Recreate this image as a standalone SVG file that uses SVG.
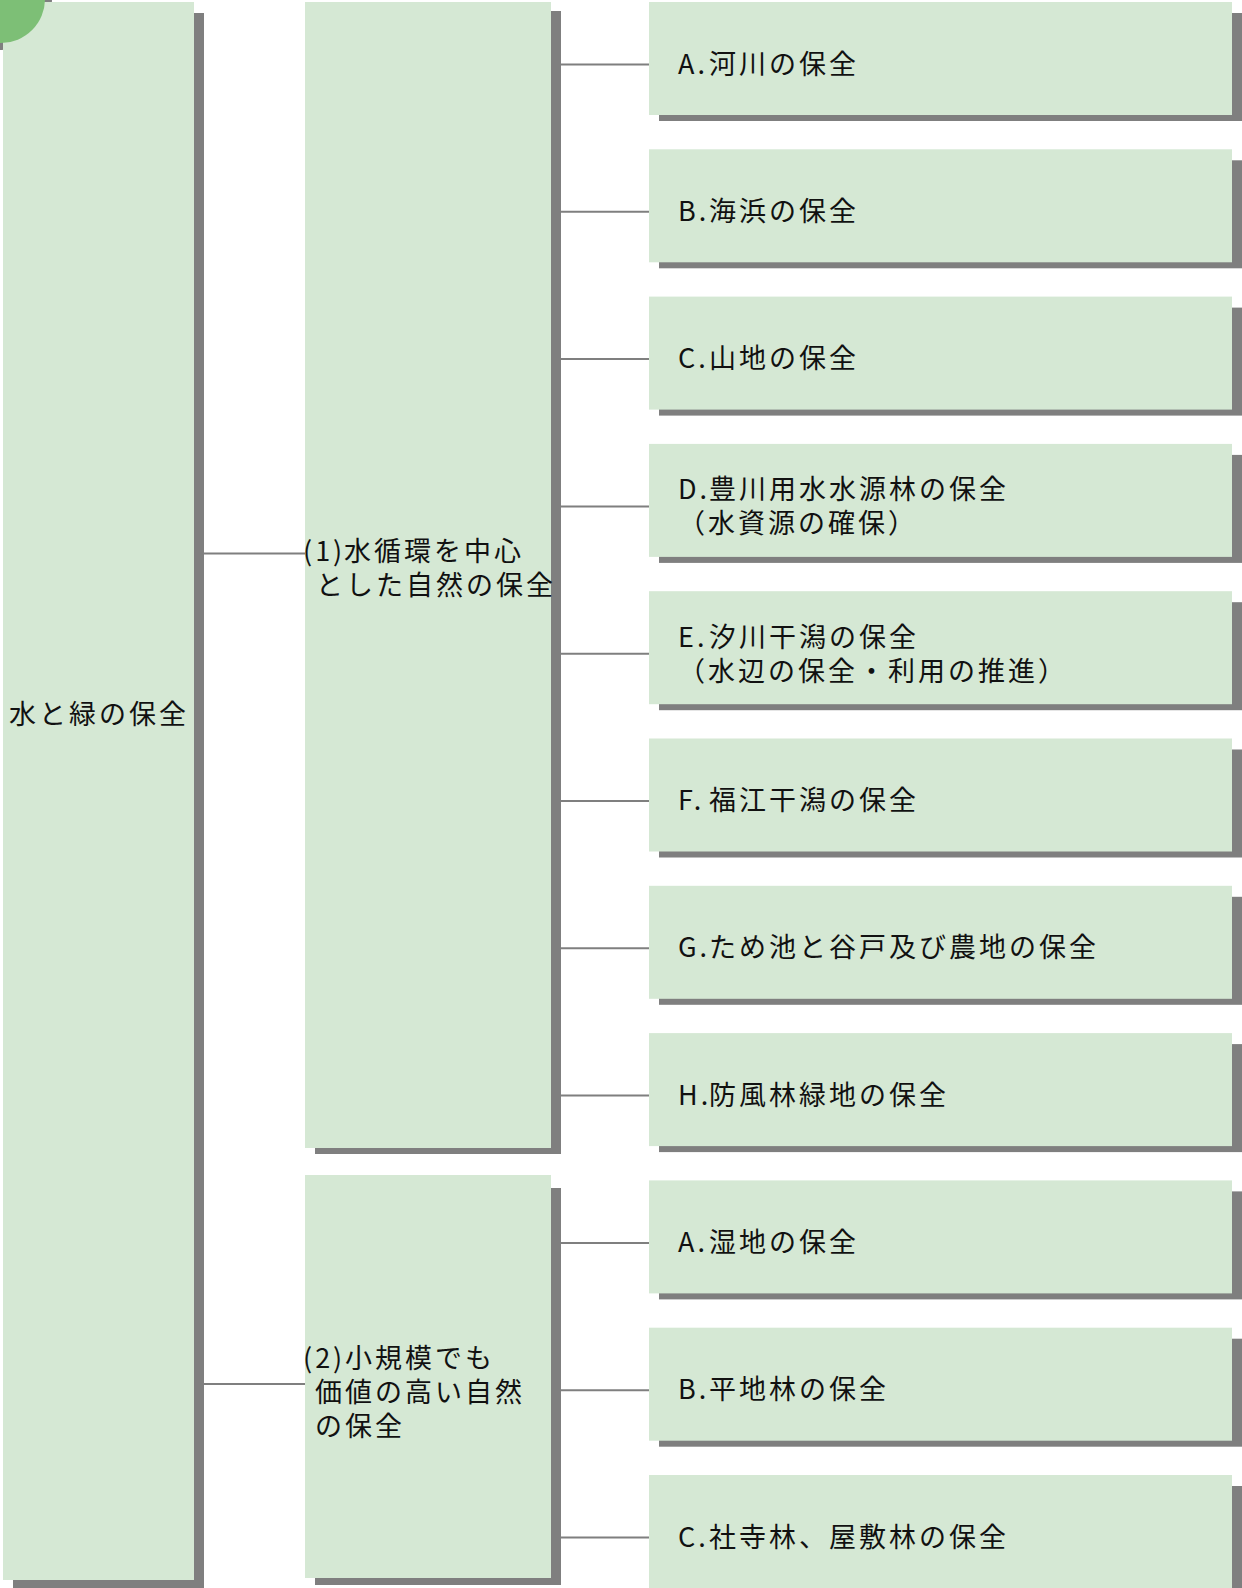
<svg xmlns="http://www.w3.org/2000/svg" width="1242" height="1588" viewBox="0 0 1242 1588">
<style>
.box{fill:#d5e8d4}
.sh{fill:#7f7f7f}
.t{font-family:"Noto Sans CJK JP","Noto Sans",sans-serif;font-size:27px;letter-spacing:3px;fill:#111}
.c{stroke:#7f7f7f;stroke-width:2;fill:none}
</style>
<rect width="1242" height="1588" fill="#ffffff"/>
<circle cx="1" cy="-1" r="51" fill="#7f7f7f"/>
<g id="root">
<rect class="sh" x="13" y="13" width="191" height="1575"/>
<rect class="box" x="3" y="2" width="191" height="1578"/>
<text class="t" x="9" y="724">水と緑の保全</text>
</g>
<circle cx="1" cy="-1" r="44" fill="#7dbf76"/>
<g id="connectors">
<line class="c" x1="204" y1="553.5" x2="305" y2="553.5"/>
<line class="c" x1="204" y1="1384" x2="305" y2="1384"/>
<line class="c" x1="561" y1="64.5" x2="649" y2="64.5"/>
<line class="c" x1="561" y1="211.8" x2="649" y2="211.8"/>
<line class="c" x1="561" y1="359" x2="649" y2="359"/>
<line class="c" x1="561" y1="506.4" x2="649" y2="506.4"/>
<line class="c" x1="561" y1="653.7" x2="649" y2="653.7"/>
<line class="c" x1="561" y1="801" x2="649" y2="801"/>
<line class="c" x1="561" y1="948.3" x2="649" y2="948.3"/>
<line class="c" x1="561" y1="1095.6" x2="649" y2="1095.6"/>
<line class="c" x1="561" y1="1242.9" x2="649" y2="1242.9"/>
<line class="c" x1="561" y1="1390.2" x2="649" y2="1390.2"/>
<line class="c" x1="561" y1="1537.5" x2="649" y2="1537.5"/>
</g>
<g id="mid1">
<rect class="sh" x="315" y="11" width="246" height="1143"/>
<rect class="box" x="305" y="2" width="246" height="1146"/>
<text class="t" x="303" y="561">(1)<tspan x="344">水循環を中心</tspan></text>
<text class="t" x="316" y="594.5">とした自然の保全</text>
</g>
<g id="mid2">
<rect class="sh" x="315" y="1188" width="246" height="397"/>
<rect class="box" x="305" y="1175" width="246" height="403"/>
<text class="t" x="303" y="1367.5">(2)<tspan x="345">小規模でも</tspan></text>
<text class="t" x="315" y="1402">価値の高い自然</text>
<text class="t" x="315" y="1435.5">の保全</text>
</g>
<g id="r1a">
<rect class="sh" x="659" y="13" width="583" height="108"/>
<rect class="box" x="649" y="2" width="583" height="113"/>
<text class="t" x="678" y="73.5">A.<tspan x="709">河川の保全</tspan></text>
</g>
<g id="r1b">
<rect class="sh" x="659" y="160.3" width="583" height="108"/>
<rect class="box" x="649" y="149.3" width="583" height="113"/>
<text class="t" x="678" y="220.8">B.<tspan x="709">海浜の保全</tspan></text>
</g>
<g id="r1c">
<rect class="sh" x="659" y="307.6" width="583" height="108"/>
<rect class="box" x="649" y="296.6" width="583" height="113"/>
<text class="t" x="678" y="368">C.<tspan x="709">山地の保全</tspan></text>
</g>
<g id="r1d">
<rect class="sh" x="659" y="454.9" width="583" height="108"/>
<rect class="box" x="649" y="443.9" width="583" height="113"/>
<text class="t" x="678" y="499.4">D.<tspan x="709">豊川用水水源林の保全</tspan></text>
<text class="t" x="678" y="533.4">（水資源の確保）</text>
</g>
<g id="r1e">
<rect class="sh" x="659" y="602.2" width="583" height="108"/>
<rect class="box" x="649" y="591.2" width="583" height="113"/>
<text class="t" x="678" y="646.7">E.<tspan x="709">汐川干潟の保全</tspan></text>
<text class="t" x="678" y="680.7">（水辺の保全・利用の推進）</text>
</g>
<g id="r1f">
<rect class="sh" x="659" y="749.5" width="583" height="108"/>
<rect class="box" x="649" y="738.5" width="583" height="113"/>
<text class="t" x="678" y="810">F.<tspan x="709">福江干潟の保全</tspan></text>
</g>
<g id="r1g">
<rect class="sh" x="659" y="896.8" width="583" height="108"/>
<rect class="box" x="649" y="885.8" width="583" height="113"/>
<text class="t" x="678" y="957.3">G.<tspan x="709">ため池と谷戸及び農地の保全</tspan></text>
</g>
<g id="r1h">
<rect class="sh" x="659" y="1044.1" width="583" height="108"/>
<rect class="box" x="649" y="1033.1" width="583" height="113"/>
<text class="t" x="678" y="1104.6">H.<tspan x="709">防風林緑地の保全</tspan></text>
</g>
<g id="r2a">
<rect class="sh" x="659" y="1191.4" width="583" height="108"/>
<rect class="box" x="649" y="1180.4" width="583" height="113"/>
<text class="t" x="678" y="1251.9">A.<tspan x="709">湿地の保全</tspan></text>
</g>
<g id="r2b">
<rect class="sh" x="659" y="1338.7" width="583" height="108"/>
<rect class="box" x="649" y="1327.7" width="583" height="113"/>
<text class="t" x="678" y="1399.2">B.<tspan x="709">平地林の保全</tspan></text>
</g>
<g id="r2c">
<rect class="sh" x="659" y="1486" width="583" height="108"/>
<rect class="box" x="649" y="1475" width="583" height="113"/>
<text class="t" x="678" y="1546.5">C.<tspan x="709">社寺林、屋敷林の保全</tspan></text>
</g>
</svg>
